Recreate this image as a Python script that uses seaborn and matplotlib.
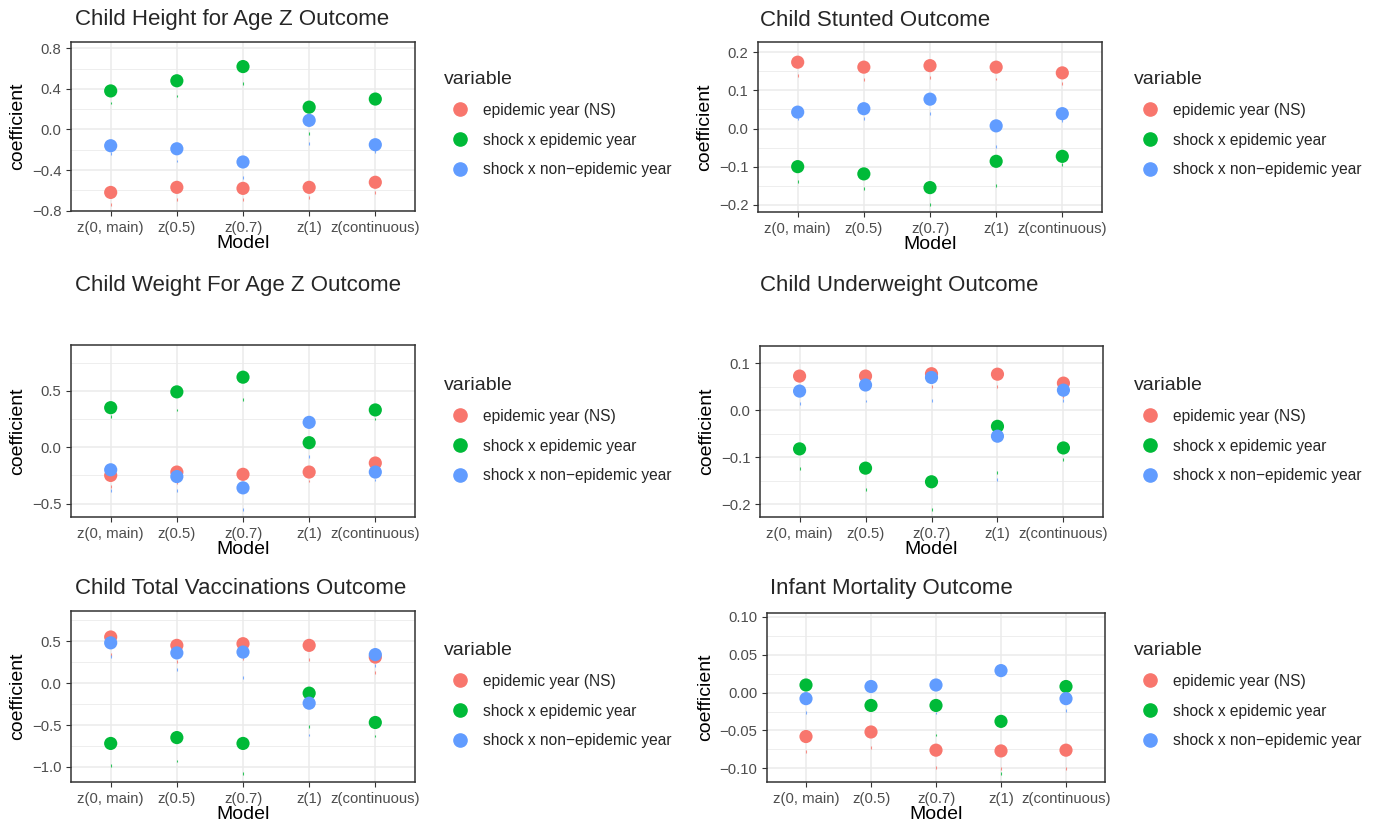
import matplotlib
matplotlib.use("Agg")
import matplotlib.pyplot as plt
import numpy as np
import pandas as pd
import seaborn as sns
from matplotlib.lines import Line2D
from matplotlib.ticker import MultipleLocator, FuncFormatter

sns.set_theme(style="white")
plt.rcParams["font.family"] = ["Liberation Sans", "DejaVu Sans"]

models = ["z(0, main)", "z(0.5)", "z(0.7)", "z(1)", "z(continuous)"]
variables = ["epidemic year (NS)", "shock x epidemic year", "shock x non\u2212epidemic year"]
palette = ["#F8766D", "#00BA38", "#619CFF"]

titles = ["Child Height for Age Z Outcome", "Child Stunted Outcome",
          "Child Weight For Age Z Outcome", "Child Underweight Outcome",
          "Child Total Vaccinations Outcome", "Infant Mortality Outcome"]

# point estimates: epidemic year (NS), shock x epidemic, shock x non-epidemic
haz_ns = [-0.62, -0.57, -0.58, -0.57, -0.52]
haz_epi = [0.38, 0.48, 0.62, 0.22, 0.30]
haz_non = [-0.16, -0.19, -0.32, 0.09, -0.15]

stunt_ns = [0.174, 0.161, 0.165, 0.161, 0.146]
stunt_epi = [-0.100, -0.119, -0.155, -0.086, -0.073]
stunt_non = [0.043, 0.052, 0.077, 0.007, 0.039]

waz_ns = [-0.25, -0.22, -0.24, -0.22, -0.14]
waz_epi = [0.35, 0.49, 0.62, 0.04, 0.33]
waz_non = [-0.20, -0.26, -0.36, 0.22, -0.22]

under_ns = [0.073, 0.073, 0.078, 0.077, 0.058]
under_epi = [-0.082, -0.123, -0.152, -0.034, -0.080]
under_non = [0.041, 0.054, 0.070, -0.055, 0.043]

vacc_ns = [0.55, 0.45, 0.47, 0.45, 0.31]
vacc_epi = [-0.72, -0.65, -0.72, -0.12, -0.47]
vacc_non = [0.48, 0.36, 0.37, -0.24, 0.34]

mort_ns = [-0.058, -0.052, -0.076, -0.077, -0.076]
mort_epi = [0.010, -0.017, -0.017, -0.038, 0.008]
mort_non = [-0.008, 0.008, 0.010, 0.029, -0.008]

# faint lower ends of the interval lines
haz_lo = [[-0.74, -0.69, -0.69, -0.67, -0.62], [0.26, 0.33, 0.45, -0.04, np.nan], [-0.24, -0.31, -0.47, -0.14, -0.22]]
stunt_lo = [[0.139, 0.128, 0.134, 0.130, 0.118], [-0.138, -0.158, -0.199, -0.150, -0.095], [0.025, 0.026, 0.039, -0.047, 0.021]]
waz_lo = [[-0.35, -0.31, np.nan, -0.30, np.nan], [0.27, 0.33, 0.42, np.nan, 0.25], [-0.38, -0.38, -0.55, -0.08, -0.29]]
under_lo = [[np.nan, np.nan, 0.051, 0.050, 0.030], [-0.124, -0.168, -0.211, -0.133, -0.104], [0.014, 0.020, 0.021, -0.148, 0.021]]
vacc_lo = [[0.34, 0.26, 0.29, 0.28, 0.13], [-0.98, -0.93, -1.08, -0.52, -0.63], [0.32, 0.16, 0.07, -0.62, 0.21]]
mort_lo = [[-0.078, -0.072, -0.099, -0.100, -0.100], [np.nan, np.nan, -0.056, -0.107, np.nan], [-0.026, np.nan, -0.027, np.nan, -0.024]]

panels = [
    (haz_ns, haz_epi, haz_non, haz_lo, (-0.803, 0.862), 0.4, 1),
    (stunt_ns, stunt_epi, stunt_non, stunt_lo, (-0.219, 0.227), 0.1, 1),
    (waz_ns, waz_epi, waz_non, waz_lo, (-0.618, 0.905), 0.5, 1),
    (under_ns, under_epi, under_non, under_lo, (-0.227, 0.137), 0.1, 1),
    (vacc_ns, vacc_epi, vacc_non, vacc_lo, (-1.18, 0.86), 0.5, 1),
    (mort_ns, mort_epi, mort_non, mort_lo, (-0.118, 0.105), 0.05, 2),
]

W, H = 1377, 830
boxes = [(71, 42, 415, 211), (758, 42, 1102, 212), (71, 345, 415, 517),
         (760, 346, 1103, 517), (71, 611, 415, 782), (767, 613, 1105, 782)]
title_pos = [(75, 20), (760, 20), (75, 285), (760, 285), (75, 588), (770, 588)]
legend_pos = [(430, 57), (1120, 57), (430, 363), (1120, 363), (430, 628), (1120, 628)]

fig = plt.figure(figsize=(W / 100, H / 100), dpi=100)
pos = list(range(len(models)))

for i, (ns, epi, non, lo, ylim, step, dec) in enumerate(panels):
    l, t, r, b = boxes[i]
    ax = fig.add_axes([l / W, 1 - b / H, (r - l) / W, (b - t) / H])
    df = pd.DataFrame({
        "pos": pos * 3,
        "coefficient": ns + epi + non,
        "lo": lo[0] + lo[1] + lo[2],
        "variable": [v for v in variables for _ in models],
    })
    ax.set_axisbelow(True)
    sns.scatterplot(data=df.dropna(), x="pos", y="lo", hue="variable", hue_order=variables,
                    palette=palette, marker="|", s=4, linewidth=0.8, alpha=0.8,
                    legend=False, ax=ax)
    sns.scatterplot(data=df, x="pos", y="coefficient", hue="variable", hue_order=variables,
                    palette=palette, s=90, linewidth=0, legend=False, ax=ax, zorder=3)

    ax.set_xlim(-0.6, 4.6)
    ax.set_xticks(pos)
    ax.set_xticklabels(models)
    ax.set_ylim(*ylim)
    ax.yaxis.set_major_locator(MultipleLocator(step))
    ax.yaxis.set_minor_locator(MultipleLocator(step / 2))
    ax.yaxis.set_major_formatter(FuncFormatter(
        lambda v, p, d=dec: f"{round(v, d) + 0.0:.{d}f}".replace("-", "\u2212")))
    ax.grid(which="major", color="#EBEBEB", lw=1.1)
    ax.grid(which="minor", axis="y", color="#EBEBEB", lw=0.6)
    for s in ax.spines.values():
        s.set_color("#333333")
        s.set_linewidth(1.1)
    ax.tick_params(which="major", length=3.5, width=0.8, color="#333333",
                   labelsize=10.7, labelcolor="#4D4D4D", pad=3.5, bottom=True, left=True)
    ax.tick_params(which="minor", length=0, left=False)
    ax.set_xlabel("Model", fontsize=14, color="black", labelpad=0)
    ax.set_ylabel("coefficient", fontsize=14, color="black", labelpad=4)

    tx, ty = title_pos[i]
    fig.text(tx / W, 1 - ty / H, titles[i], fontsize=16, ha="left", va="center")

    handles = [Line2D([], [], marker="o", ls="", color=c, markersize=9.5) for c in palette]
    lx, ly = legend_pos[i]
    fig.legend(handles, variables, title="variable", loc="upper left",
               bbox_to_anchor=(lx / W, 1 - ly / H), frameon=False,
               fontsize=11.2, title_fontsize=14, labelspacing=0.95,
               handletextpad=0.5, alignment="left")

fig.savefig("out.png", dpi=100)
